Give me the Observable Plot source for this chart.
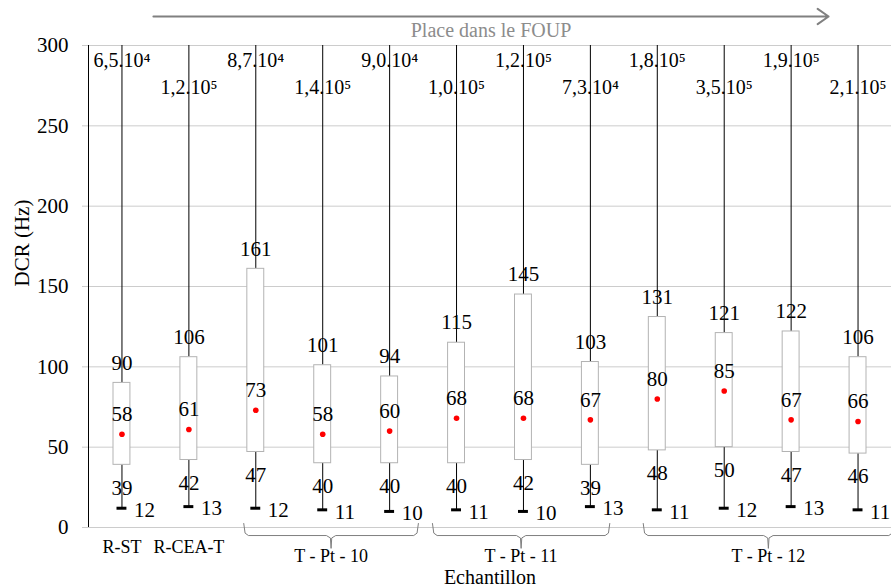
<!DOCTYPE html>
<html><head><meta charset="utf-8">
<script src="https://cdn.jsdelivr.net/npm/d3@7"></script>
<script src="https://cdn.jsdelivr.net/npm/@observablehq/plot@0.6"></script>
<style>
body{margin:0;background:#fff}
#chart svg, #chart svg text { font-family: "Liberation Serif", "DejaVu Serif", "Noto Serif", serif !important; }
</style>
</head><body><div id="chart"></div>
<script>
const samples = ["R-ST","R-CEA-T","T-Pt-10 a","T-Pt-10 b","T-Pt-10 c","T-Pt-11 a","T-Pt-11 b","T-Pt-11 c","T-Pt-12 a","T-Pt-12 b","T-Pt-12 c","T-Pt-12 d"];
const maxValues = [65000,120000,87000,140000,90000,100000,120000,73000,180000,350000,190000,210000];
const maxLabels = ["6,5.10⁴","1,2.10⁵","8,7.10⁴","1,4.10⁵","9,0.10⁴","1,0.10⁵","1,2.10⁵","7,3.10⁴","1,8.10⁵","3,5.10⁵","1,9.10⁵","2,1.10⁵"];
const q3Values = [90,106,161,101,94,115,145,103,131,121,122,106];
const meanValues = [58,61,73,58,60,68,68,67,80,85,67,66];
const q1Values = [39,42,47,40,40,40,42,39,48,50,47,46];
const minValues = [12,13,12,11,10,11,10,13,11,12,13,11];
const yTicks = [0,50,100,150,200,250,300];
const singleLabels = ["R-ST","R-CEA-T"];
const groupLabels = ["T - Pt - 10","T - Pt - 11","T - Pt - 12"];
const groupStart = [1.82, 4.64, 7.79];
const groupEnd = [4.43, 7.29, 11.53];
const foupLabel = "Place dans le FOUP";
const foupSpan = [0.47, 10.56];

const data = samples.map((s, i) => ({
  i, s, max: maxValues[i], maxLabel: maxLabels[i], q3: q3Values[i],
  mean: meanValues[i], q1: q1Values[i], min: minValues[i], row: i % 2
}));
const groups = groupLabels.map((g, k) => ({label: g, s: groupStart[k], e: groupEnd[k], c: (groupStart[k] + groupEnd[k]) / 2}));
const bracePts = groups.flatMap((g, k) => {
  const {s, e, c} = g;
  return [
    [s, 2.5], [s + 0.02, -3.5], [s + 0.07, -5], [c - 0.07, -5], [c - 0.01, -6.5], [c, -13],
    [c + 0.01, -6.5], [c + 0.07, -5], [e - 0.07, -5], [e - 0.02, -3.5], [e, 2.5]
  ].map(([x, y]) => ({x, y, k}));
});

const font = "Liberation Serif, DejaVu Serif, serif";
const chart = Plot.plot({
  width: 891, height: 588,
  marginLeft: 88, marginRight: 0, marginTop: 45, marginBottom: 61,
  x: {domain: [-0.5, 11.5], axis: null},
  y: {domain: [0, 300], axis: null},
  style: {fontFamily: font, background: "#fff", color: "#000"},
  marks: [
    Plot.gridY(yTicks, {stroke: "#cccccc", strokeOpacity: 1}),
    Plot.axisY(yTicks, {tickSize: 6, tickPadding: 14, fontSize: 21, stroke: "#cccccc", fill: "#000", fontFamily: font}),
    Plot.ruleX([-0.5], {y1: 0, y2: 300, stroke: "#000"}),
    // whiskers
    Plot.ruleX(data, {x: "i", y1: "q3", y2: "max", stroke: "#000", clip: true}),
    Plot.ruleX(data, {x: "i", y1: "min", y2: "q1", stroke: "#000"}),
    Plot.ruleY(data, {y: "min", x1: d => d.i - 0.5, x2: d => d.i + 0.5, insetLeft: 28.5, insetRight: 28.5, stroke: "#000", strokeWidth: 3}),
    // boxes
    Plot.rect(data, {x1: d => d.i - 0.5, x2: d => d.i + 0.5, y1: "q1", y2: "q3", insetLeft: 25, insetRight: 25, fill: "#fff", stroke: "#b3b3b3", strokeWidth: 1}),
    Plot.dot(data, {x: "i", y: "mean", r: 2.8, fill: "#ff0000", stroke: "none"}),
    // value labels
    Plot.text(data, {x: "i", y: "q3", text: d => String(d.q3), dy: -20, fontSize: 21, fontFamily: font}),
    Plot.text(data, {x: "i", y: "mean", text: d => String(d.mean), dy: -20, fontSize: 21, fontFamily: font}),
    Plot.text(data, {x: "i", y: "q1", text: d => String(d.q1), dy: 23, fontSize: 21, fontFamily: font}),
    Plot.text(data, {x: "i", y: "min", text: d => String(d.min), dx: 12, dy: 2, textAnchor: "start", fontSize: 21, fontFamily: font}),
    Plot.text(data.filter(d => d.row === 0), {x: "i", y: 300, text: "maxLabel", dy: 15, fontSize: 20, fontFamily: font}),
    Plot.text(data.filter(d => d.row === 1), {x: "i", y: 300, text: "maxLabel", dy: 42, fontSize: 20, fontFamily: font}),
    // x labels
    Plot.text(singleLabels, {x: (d, i) => i, y: 0, text: d => d, dy: 20, fontSize: 18, fontFamily: font}),
    Plot.line(bracePts, {x: "x", y: "y", z: "k", stroke: "#7f7f7f", strokeWidth: 1}),
    Plot.text(groups, {x: "c", y: 0, text: "label", dy: 29, fontSize: 18, fontFamily: font}),
    Plot.text(["Echantillon"], {frameAnchor: "bottom", dy: 56, fontSize: 20, fontFamily: font}),
    Plot.text(["DCR (Hz)"], {frameAnchor: "left", rotate: -90, dx: -66, fontSize: 21, fontFamily: font}),
    // FOUP arrow
    Plot.arrow([foupSpan], {x1: d => d[0], x2: d => d[1], y1: 300, y2: 300, dy: -29, stroke: "#808080", strokeWidth: 2, headLength: 10, headAngle: 70}),
    Plot.text([foupLabel], {x: foupSpan[0] + (foupSpan[1] - foupSpan[0]) / 2, y: 300, text: d => d, dy: -15, fontSize: 20, fill: "#8c8c8c", fontFamily: font})
  ]
});
document.getElementById("chart").appendChild(chart);
</script>
</body></html>
